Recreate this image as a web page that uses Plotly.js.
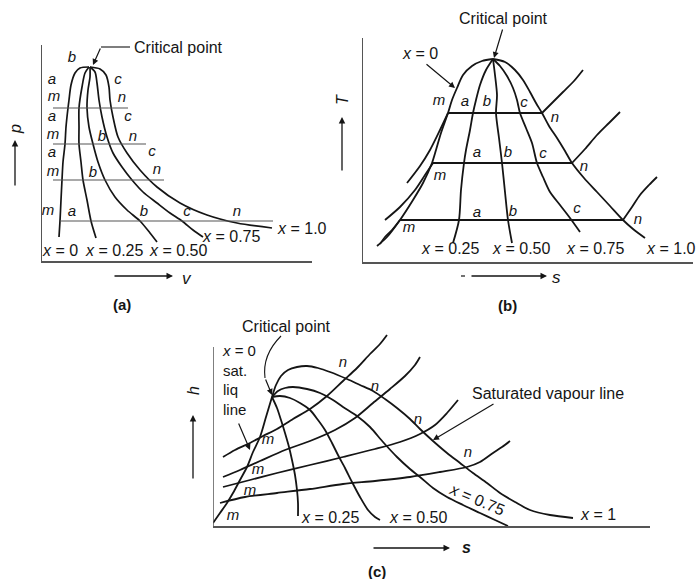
<!DOCTYPE html>
<html>
<head>
<meta charset="utf-8">
<script src="https://cdn.plot.ly/plotly-3.0.1.min.js"></script>
<style>html,body{margin:0;padding:0;background:#fff;}#chart{width:698px;height:579px;}</style>
</head>
<body>
<div id="chart"></div>
<script>
// ---------- Panel (a): p–v diagram (v, p) ----------
const pvQualityText = ['x = 0', 'x = 0.25', 'x = 0.50', 'x = 0.75', 'x = 1.0'];
const pv_q000 = [[89,67],[80,68],[75,73],[71,85],[69,100],[68,108],[66,127],[65,144],[63,162],[62,180],[61,200],[60,221],[59,237]];
const pv_q025 = [[89,67],[85,73],[82,87],[79,108],[79,127],[79,144],[81,162],[83,180],[87,200],[91,221],[96,238]];
const pv_q050 = [[90,67],[90,77],[88,90],[87,108],[89,127],[93,144],[98,162],[105,180],[115,197],[127,210],[140,221],[150,233],[157,242]];
const pv_q075 = [[90,67],[95,72],[97,83],[99,100],[102,117],[107,137],[113,153],[122,167],[132,180],[143,192],[157,203],[170,213],[182,221],[193,230],[203,237]];
const pv_q100 = [[90,67],[100,69],[106,75],[109,87],[110,100],[113,117],[118,137],[127,153],[140,170],[157,187],[180,203],[207,215],[237,223],[272,228]];
const pv_isobarP = [108, 144, 180, 221];
const pv_isobarVstart = [53, 53, 53, 60];
const pv_isobarVend = [128, 146, 164, 273];
const pv_ptText = ['b','a','c','m','n','a','c','m','b','n','a','c','m','b','n','m','a','b','c','n'];
const pv_ptV = [72,52,118,54,122,52,128,53,102,133,52,152,53,93,157,48,72,144,187,237];
const pv_ptP = [58,80,80,97,98,117,117,135,137,137,153,152,172,173,170,211,212,212,212,212];
const pv_qLabelV = [60,114,178,231,302];
const pv_qLabelP = [250,250,250,236,228];

// ---------- Panel (b): T–s diagram ----------
const ts_q000 = [[493,59],[482,61],[472,66],[463,75],[457,88],[452,100],[448,113],[441,133],[436,150],[432,163],[423,183],[413,200],[400,220],[387,237],[377,246]];
const ts_q025 = [[493,59],[486,70],[480,85],[476,100],[473,113],[470,130],[466,150],[464,163],[461,190],[459,220],[453,243]];
const ts_q050 = [[493,59],[495,75],[497,95],[496,113],[499,138],[502,163],[505,192],[508,220],[512,243]];
const ts_q075 = [[493,59],[500,66],[507,76],[513,88],[517,100],[520,113],[526,128],[532,143],[537,163],[543,177],[550,192],[560,205],[570,218],[580,232]];
const ts_q100 = [[493,59],[505,62],[515,70],[523,80],[530,92],[536,103],[542,113],[549,126],[557,138],[565,151],[572,163],[584,178],[597,192],[610,206],[623,220],[633,229],[645,238]];
const ts_liqA = [[448,113],[440,130],[430,150],[420,166],[407,183]];
const ts_liqC = [[433,163],[425,175],[415,190],[400,207],[385,220]];
const ts_liqD = [[400,220],[392,230],[385,237],[380,244]];
const ts_sup1 = [[542,113],[553,102],[563,92],[574,81],[583,70]];
const ts_sup2 = [[572,163],[585,149],[597,135],[609,123],[620,112]];
const ts_sup3 = [[623,220],[632,207],[640,195],[649,185],[657,177]];
const ts_isobarT = [113, 163, 220];
const ts_isobarSstart = [448, 433, 400];
const ts_isobarSend = [542, 572, 623];
const ts_ptText = ['m','a','b','c','n','a','b','c','n','m','a','b','c','n','m'];
const ts_ptS = [439,465,487,524,555,477,508,543,584,440,477,513,577,638,409];
const ts_ptT = [101,102,102,103,118,153,153,154,167,176,213,212,209,220,228];
const tsQualityText = ['x = 0.25','x = 0.50','x = 0.75','x = 1.0'];
const ts_qLabelS = [450,521,595,671];
const ts_qLabelT = [249,249,249,248];

// ---------- Panel (c): h–s diagram ----------
const hs_q000 = [[213,523],[220,513],[227,503],[233,493],[240,480],[247,467],[253,452],[260,437],[266,417],[272,397]];
const hs_q025 = [[272,397],[277,408],[281,420],[285,433],[289,447],[292,460],[295,475],[297,490],[298,503],[298,516]];
const hs_q050 = [[272,397],[280,396],[290,398],[300,403],[310,410],[318,420],[325,430],[332,443],[338,455],[345,468],[352,482],[360,497],[368,510],[375,517],[380,520]];
const hs_q075 = [[272,397],[278,391],[285,388],[293,387],[307,389],[320,393],[333,400],[343,407],[357,416],[370,427],[383,442],[397,457],[410,469],[420,477],[433,488],[447,497],[463,505],[480,513],[495,520],[508,526]];
const hs_q100 = [[272,397],[276,385],[281,376],[288,370],[297,367],[307,366],[318,368],[330,372],[347,379],[360,385],[373,391],[385,399],[397,408],[410,419],[420,429],[433,441],[447,453],[460,463],[473,473],[487,483],[500,493],[515,502],[530,510],[550,515],[573,518]];
const hs_p1 = [[223,457],[235,450],[250,443],[263,436],[277,429],[293,419],[310,409],[327,396],[343,381],[357,368],[370,354],[380,344],[387,335]];
const hs_p2 = [[223,477],[240,470],[260,461],[285,450],[310,441],[335,430],[355,418],[373,403],[390,389],[405,376],[415,365],[420,357]];
const hs_p3 = [[223,487],[250,480],[277,473],[310,465],[343,457],[375,449],[400,442],[420,434],[435,425],[447,413],[458,400]];
const hs_p4 = [[220,503],[245,497],[277,493],[310,489],[343,484],[375,481],[410,477],[440,472],[467,467],[480,462],[493,453],[502,447],[510,441]];
const hs_ptText = ['n','n','n','n','m','m','m','m'];
const hs_ptS = [343,375,418,468,268,258,250,233];
const hs_ptH = [363,387,420,453,440,470,491,516];

// ---------- build ----------
const FONT = 'Liberation Sans, Arial, Helvetica, sans-serif';
const INK = '#151515';
const W = 698, H = 579;

function curve(pts, xa, ya, width, color) {
  return {
    x: pts.map(p => p[0]), y: pts.map(p => p[1]),
    xaxis: xa, yaxis: ya, mode: 'lines', hoverinfo: 'skip',
    line: {color: color || INK, width: width || 1.7, shape: 'spline', smoothing: 0.8}
  };
}
function hline(y, x0, x1, xa, ya, width, color) {
  return {x: [x0, x1], y: [y, y], xaxis: xa, yaxis: ya, mode: 'lines', hoverinfo: 'skip',
    line: {color: color || INK, width: width || 1.7}};
}
function labels(txt, xs, ys, xa, ya, size) {
  return {x: xs, y: ys, text: txt.map(t => '<i>' + t + '</i>'), xaxis: xa, yaxis: ya,
    mode: 'text', textposition: 'middle center', hoverinfo: 'skip', cliponaxis: false,
    textfont: {family: FONT, size: size || 15, color: INK}};
}
function qtext(t) { return t.replace(/^x/, '<i>x</i>'); }

const traces = [];
// panel a
[pv_q000, pv_q025, pv_q050, pv_q075, pv_q100].forEach(c => traces.push(curve(c, 'x', 'y', 1.7)));
pv_isobarP.forEach((p, i) => traces.push(hline(p, pv_isobarVstart[i], pv_isobarVend[i], 'x', 'y', 1.1, '#555')));
traces.push(labels(pv_ptText, pv_ptV, pv_ptP, 'x', 'y', 15));
// panel b
[ts_q000, ts_q025, ts_q050, ts_q075, ts_q100, ts_liqA, ts_liqC, ts_liqD, ts_sup1, ts_sup2, ts_sup3]
  .forEach(c => traces.push(curve(c, 'x2', 'y2', 1.8)));
ts_isobarT.forEach((t, i) => traces.push(hline(t, ts_isobarSstart[i], ts_isobarSend[i], 'x2', 'y2', 1.9)));
traces.push(labels(ts_ptText, ts_ptS, ts_ptT, 'x2', 'y2', 15));
// panel c
[hs_q000, hs_q025, hs_q050, hs_q075, hs_q100, hs_p1, hs_p2, hs_p3, hs_p4]
  .forEach(c => traces.push(curve(c, 'x3', 'y3', 1.8)));
traces.push(labels(hs_ptText, hs_ptS, hs_ptH, 'x3', 'y3', 15));

// panel frames in pixels: [left, right, top, bottom]
const boxA = [42, 312, 45, 261];
const boxB = [363, 693, 38, 262];
const boxC = [213, 650, 330, 526];
function xax(b, anchor) {
  return {domain: [b[0] / W, b[1] / W], range: [b[0], b[1]], anchor: anchor,
    showgrid: false, zeroline: false, showticklabels: false, ticks: '',
    showline: true, linecolor: '#555', linewidth: 1.5, fixedrange: true};
}
function yax(b, anchor, show) {
  return {domain: [(H - b[3]) / H, (H - b[2]) / H], range: [b[3], b[2]], anchor: anchor,
    showgrid: false, zeroline: false, showticklabels: false, ticks: '',
    showline: show, linecolor: '#555', linewidth: 1.5, fixedrange: true};
}

// annotations are placed on the paper (page pixel -> paper fraction) so none are hidden
const ann = [];
function px(x) { return x / W; }
function py(y) { return 1 - y / H; }
function txt(x, y, t, size, extra) {
  ann.push(Object.assign({xref: 'paper', yref: 'paper', x: px(x), y: py(y), text: t, showarrow: false,
    xanchor: 'center', yanchor: 'middle', font: {family: FONT, size: size || 15, color: INK}}, extra || {}));
}
function arr(x0, y0, x1, y1, w) {
  ann.push({xref: 'paper', yref: 'paper', x: px(x1), y: py(y1), ax: x0 - x1, ay: y0 - y1, text: '',
    showarrow: true, arrowhead: 2, arrowsize: 1, arrowwidth: w || 1.2, arrowcolor: INK, standoff: 0, startstandoff: 0});
}
// panel a texts
pvQualityText.forEach((t, i) => txt(pv_qLabelV[i], pv_qLabelP[i], qtext(t), 16));
txt(132, 48, 'Critical point', 16, {xanchor: 'left'});
arr(101, 47, 93, 65);
arr(15, 187, 15, 140, 1.3);
txt(15, 129, '<i>p</i>', 16, {textangle: -90});
arr(113, 276, 173, 276, 1.3);
txt(187, 278, '<i>v</i>', 17);
txt(122, 304, '<b>(a)</b>', 15);
// panel b texts
tsQualityText.forEach((t, i) => txt(ts_qLabelS[i], ts_qLabelT[i], qtext(t), 16));
txt(420, 53, '<i>x</i> = 0', 16);
arr(425, 63, 455, 88);
txt(503, 18, 'Critical point', 16);
arr(503, 28, 494, 58);
arr(342, 172, 342, 117, 1.3);
txt(342, 100, '<i>T</i>', 16, {textangle: -90});
arr(470, 276, 547, 276, 1.3);
txt(556, 277, '<i>s</i>', 17);
txt(507, 305, '<b>(b)</b>', 15);
// panel c texts
txt(330, 517, '<i>x</i> = 0.25', 16);
txt(418, 517, '<i>x</i> = 0.50', 16);
txt(477, 499, '<i>x</i> = 0.75', 16, {textangle: 23});
txt(598, 514, '<i>x</i> = 1', 16);
txt(220, 380, '<i>x</i> = 0<br>sat.<br>liq<br>line', 15, {xanchor: 'left', align: 'left'});
arr(238, 422, 250, 450);
txt(286, 326, 'Critical point', 16);
arr(265, 378, 272, 395);
txt(548, 393, 'Saturated vapour line', 16);
arr(495, 403, 433, 440);
arr(193, 480, 193, 415, 1.3);
txt(193, 391, '<i>h</i>', 16, {textangle: -90});
arr(372, 548, 450, 548, 1.3);
txt(466, 547, '<b><i>s</i></b>', 16);
txt(377, 571, '<b>(c)</b>', 15);

const shapes = [
  {type: 'line', xref: 'paper', yref: 'paper', x0: px(101), y0: py(47), x1: px(130), y1: py(47), line: {color: INK, width: 1.1}},
  {type: 'line', xref: 'paper', yref: 'paper', x0: px(461), y0: py(276), x1: px(465), y1: py(276), line: {color: INK, width: 1.2}},
  {type: 'path', xref: 'x3', yref: 'y3', path: 'M 281 336 Q 262 355 265 378', line: {color: INK, width: 1.1}},
  {type: 'line', xref: 'x3', yref: 'y3', x0: 213, y0: 347, x1: 213, y1: 526, line: {color: '#555', width: 1.5}}
];

const layout = {
  width: W, height: H, margin: {l: 0, r: 0, t: 0, b: 0, pad: 0},
  paper_bgcolor: '#fff', plot_bgcolor: 'rgba(0,0,0,0)', showlegend: false,
  xaxis: xax(boxA, 'y'), yaxis: yax(boxA, 'x', true),
  xaxis2: xax(boxB, 'y2'), yaxis2: yax(boxB, 'x2', true),
  xaxis3: xax(boxC, 'y3'), yaxis3: yax(boxC, 'x3', false),
  annotations: ann, shapes: shapes
};

Plotly.newPlot('chart', traces, layout, {displayModeBar: false, staticPlot: true});
</script>
</body>
</html>
